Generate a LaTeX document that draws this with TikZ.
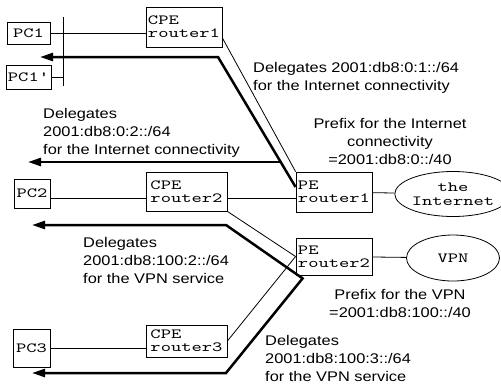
\documentclass[tikz,border=0pt]{standalone}
\usepackage{fontspec}
\setmainfont[FakeStretch=1.17]{Liberation Sans}
\newfontfamily\routerfont[FakeStretch=1.4]{lmmono10-regular.otf}
\usetikzlibrary{arrows.meta,shapes.geometric}

\tikzset{
  >={Triangle[length=13pt,width=8pt]},
  box/.style={draw, line width=0.8pt, inner sep=2pt, align=left,
    font=\routerfont\fontsize{14}{13}\selectfont},
  site/.style={draw, ellipse, line width=0.8pt, inner sep=0pt, align=center,
    font=\routerfont\fontsize{14}{14}\selectfont},
  note/.style={inner sep=0pt, align=left, font=\fontsize{14}{18}\selectfont},
  link/.style={line width=0.8pt},
  deleg/.style={line width=2.5pt, ->},
}

\begin{document}
\begin{tikzpicture}[x=1pt,y=-1pt]

	\useasboundingbox (0,0) rectangle (501,384);

	% PCs
	\node[box, minimum width=43pt, minimum height=22pt] (pc1) at (28.5,33) {PC1};
	\node[box, minimum width=43pt, minimum height=24pt] (pc1p) at (28.5,77) {PC1'};
	\node[box, minimum width=36pt, minimum height=29pt] (pc2) at (32,193.5) {PC2};
	\node[box, minimum width=37pt, minimum height=38pt] (pc3) at (31.5,348) {PC3};

	% CPE routers
	\node[box, minimum width=76pt, minimum height=40pt] (cpe1) at (184,27) {CPE\\router1};
	\node[box, minimum width=81pt, minimum height=39pt] (cpe2) at (186.5,191.5) {CPE\\router2};
	\node[box, minimum width=81pt, minimum height=32pt] (cpe3) at (186.5,341) {CPE\\router3};

	% PE routers
	\node[box, minimum width=72pt, minimum height=40pt] (pe1) at (334,192) {PE\\router1};
	\node[box, minimum width=72pt, minimum height=37pt] (pe2) at (334,256.5) {PE\\router2};

	% Internet y VPN
	\node[site, minimum width=93pt, minimum height=45pt] (inet) at (453,194) {the\\Internet};
	\node[site, minimum width=93pt, minimum height=46pt] (vpn) at (453,258) {VPN};

	% LAN del PC1
	\coordinate (bustop) at (63,17);
	\coordinate (busbot) at (63,86);
	\draw[link] (bustop) -- (busbot);
	\draw[link] (pc1.east) -- (pc1.east -| cpe1.west);
	\draw[link] (pc1p.east) -- (pc1p.east -| bustop);

	% Enlaces
	\coordinate (lan2) at ([yshift=-5pt]pc2.east);
	\draw[link] (lan2) -- (lan2 -| cpe2.west);
	\draw[link] (lan2 -| cpe2.east) -- (lan2 -| pe1.west);
	\draw[link] (pc3.east) -- (pc3.east -| cpe3.west);
	\draw[link] ([yshift=-11pt]cpe1.east) -- (pe1.north west);
	\draw[link] (cpe2.south east) -- (pe2.west);
	\draw[link] (cpe3.east) -- (pe2.west);
	\draw[link] (pe1) -- (inet);
	\draw[link] (pe2) -- (vpn);

	% Delegaciones (Internet)
	\coordinate (bend1) at (218,57);
	\coordinate (tip1) at (40,57);
	\coordinate (split1) at (282,162);
	\coordinate (tip2) at (28,162);
	\draw[deleg] ([yshift=5pt]pe1.west) -- (bend1) -- (tip1);
	\draw[deleg] (split1) -- (tip2);

	% Delegaciones (VPN)
	\coordinate (bend3) at (226,225);
	\coordinate (tip3) at (32,225);
	\coordinate (bend4) at (226,373);
	\coordinate (tip4) at (32,373);
	\draw[deleg, <->] (tip3) -- (bend3) -- ([xshift=7pt,yshift=-3pt]pe2.south west) -- (bend4) -- (tip4);

	% Textos
	\node[note, anchor=north west] (deleg1) at (253,62) {Delegates 2001:db8:0:1::/64\\for the Internet connectivity};
	\node[note, anchor=north, align=center] (prefix1) at (390,118) {Prefix for the Internet\\connectivity\\=2001:db8:0::/40};
	\node[note, anchor=north west] (deleg2) at (43,108) {Delegates\\2001:db8:0:2::/64\\for the Internet connectivity};
	\node[note, anchor=north west] (deleg3) at (83,237) {Delegates\\2001:db8:100:2::/64\\for the VPN service};
	\node[note, anchor=north, align=center] (prefix2) at (400,289) {Prefix for the VPN\\=2001:db8:100::/40};
	\node[note, anchor=north west] (deleg4) at (265,335) {Delegates\\2001:db8:100:3::/64\\for the VPN service};

\end{tikzpicture}
\end{document}
